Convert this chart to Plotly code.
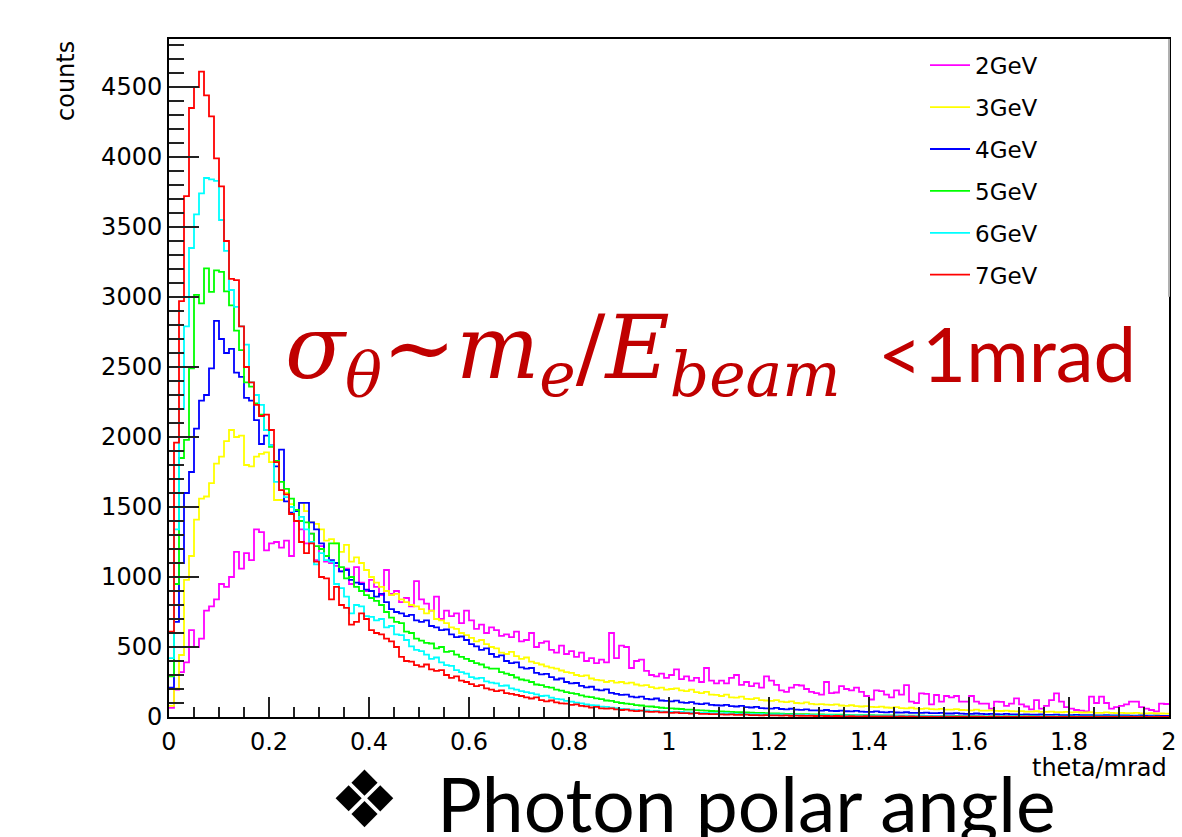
import numpy as np
import plotly.graph_objects as go

# theta histogram: 200 bins of 0.01 mrad between 0 and 2 mrad
n_bins = 200
theta_min, theta_max = 0.0, 2.0

energies = ["2GeV", "3GeV", "4GeV", "5GeV", "6GeV", "7GeV"]
colors = ["#ff00ff", "#ffff00", "#0000ff", "#00ff00", "#00ffff", "#ff0000"]

counts_2gev = [
    65, 195, 320, 390, 620, 500, 560, 760, 790, 840,
    950, 930, 1000, 1180, 1060, 1170, 1120, 1340, 1320, 1190,
    1240, 1250, 1210, 1260, 1150, 1400, 1340, 1240, 1310, 1120,
    1220, 1110, 1100, 1080, 1040, 1060, 950, 1070, 960, 900,
    980, 930, 870, 1050, 880, 900, 820, 850, 790, 970,
    840, 810, 760, 860, 700, 760, 720, 740, 670, 760,
    690, 630, 660, 600, 640, 620, 580, 590, 570, 610,
    540, 550, 600, 500, 530, 540, 480, 460, 510, 450,
    470, 430, 460, 400, 420, 385, 410, 390, 600, 420,
    510, 500, 350, 400, 410, 330, 300, 290, 310, 280,
    300, 340, 270, 290, 260, 280, 250, 350, 260, 240,
    260, 240, 280, 300, 230, 250, 220, 240, 210, 290,
    260, 230, 190, 180, 210, 230, 225, 200, 180, 170,
    160, 250, 170, 175, 220, 200, 190, 210, 180, 150,
    125, 190, 185, 160, 140, 190, 160, 228, 110, 100,
    169, 165, 90, 157, 110, 150, 140, 150, 110, 110,
    150, 110, 95, 95, 60, 110, 108, 80, 95, 133,
    90, 75, 55, 121, 60, 80, 120, 169, 110, 70,
    60, 50, 45, 40, 145, 100, 145, 100, 60, 70,
    80, 90, 110, 110, 70, 60, 50, 40, 95, 93,
]

counts_3gev = [
    79, 205, 443, 980, 1150, 1410, 1560, 1575, 1670, 1810,
    1860, 1970, 2050, 2000, 2010, 1800, 1790, 1860, 1880, 1890,
    1820, 1550, 1550, 1600, 1520, 1470, 1530, 1470, 1390, 1380,
    1340, 1260, 1270, 1240, 1180, 1230, 1110, 1140, 1100, 1050,
    1000, 960, 930, 900, 870, 880, 840, 820, 800, 790,
    770, 740, 760, 700, 690, 670, 640, 630, 600, 585,
    565, 540, 550, 520, 500, 490, 460, 450, 465, 435,
    415, 425, 395, 385, 375, 362, 352, 345, 332, 320,
    315, 300, 292, 298, 275, 265, 262, 250, 258, 245,
    250, 240, 246, 232, 224, 228, 214, 205, 210, 196,
    200, 205, 190, 185, 195, 178, 170, 180, 160, 158,
    150, 160, 140, 138, 145, 130, 128, 135, 120, 118,
    115, 120, 110, 106, 112, 100, 98, 104, 94, 90,
    92, 88, 86, 90, 82, 80, 84, 77, 75, 78,
    72, 70, 74, 68, 66, 70, 64, 62, 66, 60,
    58, 62, 56, 55, 58, 53, 52, 56, 50, 49,
    48, 52, 46, 45, 48, 44, 43, 46, 41, 40,
    42, 39, 38, 41, 37, 36, 39, 35, 34, 37,
    33, 35, 32, 32, 34, 30, 30, 33, 29, 28,
    30, 28, 27, 29, 26, 26, 28, 25, 25, 24,
]

counts_4gev = [
    210, 680, 1100, 1600, 1750, 2060, 2260, 2300, 2490, 2830,
    2700, 2600, 2630, 2460, 2430, 2280, 2260, 2120, 1950, 2010,
    1940, 1790, 1910, 1540, 1460, 1470, 1530, 1530, 1390, 1340,
    1240, 1150, 1120, 1100, 1040, 1050, 980, 960, 950, 910,
    900, 860, 880, 820, 770, 750, 740, 720, 730, 690,
    680, 690, 650, 640, 620, 625, 590, 570, 575, 550,
    520, 505, 480, 490, 450, 430, 440, 400, 385, 390,
    355, 345, 350, 315, 305, 308, 285, 268, 275, 250,
    240, 243, 222, 212, 216, 196, 190, 198, 172, 165,
    158, 160, 145, 140, 146, 130, 126, 132, 118, 115,
    112, 117, 104, 101, 106, 95, 92, 97, 86, 84,
    82, 86, 77, 75, 79, 70, 68, 72, 64, 62,
    60, 65, 57, 55, 59, 53, 51, 55, 48, 47,
    46, 50, 44, 43, 46, 41, 40, 44, 38, 37,
    37, 40, 35, 33, 37, 32, 31, 34, 30, 29,
    29, 31, 27, 27, 29, 25, 25, 27, 24, 23,
    23, 25, 22, 21, 23, 20, 19, 22, 18, 18,
    17, 19, 16, 16, 18, 15, 15, 17, 14, 14,
    14, 15, 13, 13, 14, 12, 12, 13, 11, 11,
    11, 12, 10, 10, 11, 9, 9, 10, 8, 8,
]

counts_5gev = [
    290, 950, 1850, 1980, 2490, 3015, 2955, 3205, 3036, 3190,
    3180, 3040, 2940, 2760, 2620, 2390, 2360, 2240, 2160, 2050,
    1930, 1830, 1680, 1630, 1560, 1480, 1400, 1390, 1310, 1220,
    1200, 1150, 1240, 1240, 1070, 990, 1000, 930, 900, 870,
    850, 830, 800, 750, 710, 680, 670, 610, 600, 560,
    545, 530, 525, 490, 500, 465, 470, 445, 430, 415,
    400, 385, 375, 355, 345, 345, 320, 310, 300, 282,
    268, 262, 250, 232, 228, 215, 210, 196, 188, 178,
    170, 165, 155, 145, 142, 133, 128, 118, 115, 106,
    100, 96, 92, 85, 82, 76, 75, 70, 66, 64,
    62, 59, 57, 53, 52, 49, 47, 45, 43, 41,
    40, 38, 37, 34, 34, 32, 31, 29, 29, 27,
    26, 26, 24, 23, 23, 21, 21, 20, 19, 19,
    18, 17, 17, 16, 16, 15, 14, 14, 13, 13,
    13, 12, 12, 11, 11, 10, 10, 10, 9, 9,
    9, 8, 8, 8, 7, 7, 7, 7, 6, 6,
    6, 6, 5, 5, 5, 5, 5, 4, 4, 4,
    4, 4, 4, 3, 3, 3, 3, 3, 3, 3,
    3, 2, 2, 2, 2, 2, 2, 2, 2, 2,
    2, 2, 2, 1, 2, 1, 1, 2, 1, 1,
]

counts_6gev = [
    420, 1340, 2200, 2790, 3350, 3590, 3740, 3850, 3840, 3830,
    3550, 3330, 3050, 2930, 2790, 2660, 2390, 2300, 2230, 2050,
    1940, 1680, 1620, 1570, 1500, 1400, 1430, 1340, 1250, 1090,
    1170, 1120, 1110, 950, 920, 860, 740, 800, 790, 720,
    715, 690, 700, 640, 650, 590, 585, 550, 505, 480,
    470, 445, 415, 425, 390, 370, 365, 335, 320, 310,
    285, 275, 280, 255, 245, 240, 222, 225, 205, 195,
    185, 178, 170, 162, 150, 152, 138, 130, 126, 115,
    110, 102, 98, 90, 85, 82, 74, 72, 66, 64,
    58, 56, 52, 50, 46, 47, 42, 44, 40, 38,
    37, 35, 36, 32, 32, 30, 29, 30, 27, 28,
    25, 27, 24, 23, 22, 23, 21, 20, 21, 19,
    19, 18, 18, 17, 16, 16, 15, 15, 15, 14,
    14, 13, 13, 12, 12, 11, 12, 11, 10, 11,
    10, 9, 10, 9, 8, 9, 8, 7, 8, 7,
    7, 7, 6, 7, 6, 6, 6, 5, 5, 6,
    5, 5, 5, 4, 4, 5, 4, 4, 4, 3,
    3, 4, 3, 3, 3, 3, 3, 3, 2, 3,
    2, 2, 2, 2, 2, 2, 2, 2, 2, 2,
    2, 2, 1, 2, 1, 1, 2, 1, 1, 1,
]

counts_7gev = [
    610, 1960, 2970, 3720, 4350, 4500, 4610, 4440, 4290, 3990,
    3790, 3400, 3130, 3120, 2790, 2500, 2390, 2230, 2150, 2160,
    2050, 1820, 1620, 1590, 1450, 1400, 1250, 1170, 1240, 1110,
    1000, 990, 840, 930, 800, 780, 660, 680, 740, 700,
    620, 600, 590, 560, 540, 500, 430, 400, 395, 370,
    360, 375, 340, 330, 335, 300, 280, 290, 260, 250,
    235, 220, 228, 205, 195, 185, 190, 170, 165, 158,
    150, 140, 132, 140, 120, 112, 118, 104, 98, 95,
    86, 90, 80, 76, 68, 72, 62, 60, 62, 54,
    50, 52, 46, 42, 45, 38, 36, 38, 33, 34,
    30, 32, 27, 28, 24, 27, 22, 23, 20, 21,
    19, 17, 19, 15, 16, 17, 13, 14, 12, 13,
    11, 12, 10, 11, 9, 10, 9, 8, 9, 7,
    8, 7, 6, 7, 6, 5, 6, 5, 5, 6,
    4, 5, 4, 5, 4, 3, 4, 3, 4, 3,
    3, 3, 2, 3, 2, 3, 2, 2, 3, 2,
    2, 2, 2, 1, 2, 2, 1, 2, 1, 1,
    1, 2, 1, 1, 1, 1, 1, 1, 1, 1,
    1, 1, 1, 0, 1, 1, 0, 1, 0, 1,
    0, 1, 0, 0, 1, 0, 0, 1, 0, 0,
]

all_counts = [counts_2gev, counts_3gev, counts_4gev, counts_5gev, counts_6gev, counts_7gev]

edges = np.linspace(theta_min, theta_max, n_bins + 1)

fig = go.Figure()
for name, color, counts in zip(energies, colors, all_counts):
    # ROOT-style step outline: left edge of each bin, last value repeated to close at x=2
    fig.add_trace(go.Scatter(
        x=edges,
        y=list(counts) + [counts[-1]],
        mode="lines",
        line=dict(color=color, width=1.8, shape="hv"),
        name=name,
        legendgroup=name,
    ))

ROOT_FONT = "DejaVu Sans"
tick_font = dict(family=ROOT_FONT, size=24, color="black")

fig.update_layout(
    width=1182,
    height=837,
    margin=dict(l=169, r=13, t=39, b=120, autoexpand=False),
    paper_bgcolor="white",
    plot_bgcolor="white",
    showlegend=True,
    legend=dict(
        x=0.756, y=0.993, xanchor="left", yanchor="top",
        bgcolor="white", borderwidth=0, itemwidth=40,
        font=dict(family=ROOT_FONT, size=23, color="black"),
        tracegroupgap=9,
    ),
    xaxis=dict(
        range=[theta_min, theta_max],
        dtick=0.2, tick0=0, automargin=False,
        ticks="inside", ticklen=20, tickwidth=1.5, tickcolor="#222",
        minor=dict(ticks="inside", ticklen=10, dtick=0.05, tickwidth=1.5, tickcolor="#222"),
        showline=True, linecolor="black", linewidth=2, mirror=True,
        showgrid=False, zeroline=False,
        tickfont=tick_font,
        ticklabelstandoff=2,
    ),
    yaxis=dict(
        range=[0, 4843],
        dtick=500, tick0=0, automargin=False,
        ticks="inside", ticklen=30, tickwidth=1.5, tickcolor="#222",
        minor=dict(ticks="inside", ticklen=15, dtick=100, tickwidth=1.5, tickcolor="#222"),
        showline=True, linecolor="black", linewidth=2, mirror=True,
        showgrid=False, zeroline=False,
        tickfont=tick_font,
        ticklabelstandoff=0,
    ),
)

# legend box edge over the right frame line
fig.add_shape(type="line", xref="paper", yref="paper", x0=1, x1=1, y0=0.62, y1=1,
              line=dict(color="#b0b0b0", width=2), layer="above")

# axis titles, ROOT style (right/top aligned)
fig.add_annotation(text="counts", xref="paper", yref="paper", x=-0.103, y=1.0,
                   xanchor="center", yanchor="top", textangle=-90, showarrow=False,
                   font=dict(family=ROOT_FONT, size=24, color="black"))
fig.add_annotation(text="theta/mrad", xref="paper", yref="paper", x=1.0, y=-0.052,
                   xanchor="right", yanchor="top", showarrow=False,
                   font=dict(family=ROOT_FONT, size=24, color="black"))

# slide overlay text
fig.add_annotation(
    text="<i>σ</i><sub><i>θ</i></sub>~<i>m</i><sub><i>e</i></sub>/<i>E</i><sub><i>beam</i></sub>",
    xref="paper", yref="paper", x=0.114, y=0.536, xanchor="left", yanchor="middle",
    showarrow=False, font=dict(family="DejaVu Serif", size=88, color="#c00000"))
fig.add_annotation(text="&lt;1mrad", xref="paper", yref="paper", x=0.707, y=0.537,
                   xanchor="left", yanchor="middle", showarrow=False,
                   font=dict(family="Lato", size=76, color="#c00000"))
fig.add_annotation(text="❖", xref="paper", yref="paper", x=0.158, y=-0.052,
                   xanchor="left", yanchor="top", showarrow=False,
                   font=dict(family="DejaVu Sans", size=79, color="black"))
fig.add_annotation(text="Photon polar angle", xref="paper", yref="paper", x=0.266, y=-0.058,
                   xanchor="left", yanchor="top", showarrow=False,
                   font=dict(family="Lato", size=75, color="black"))

fig.write_html("out.html", config={"displayModeBar": False},
               post_script="document.body.style.margin='0';")
